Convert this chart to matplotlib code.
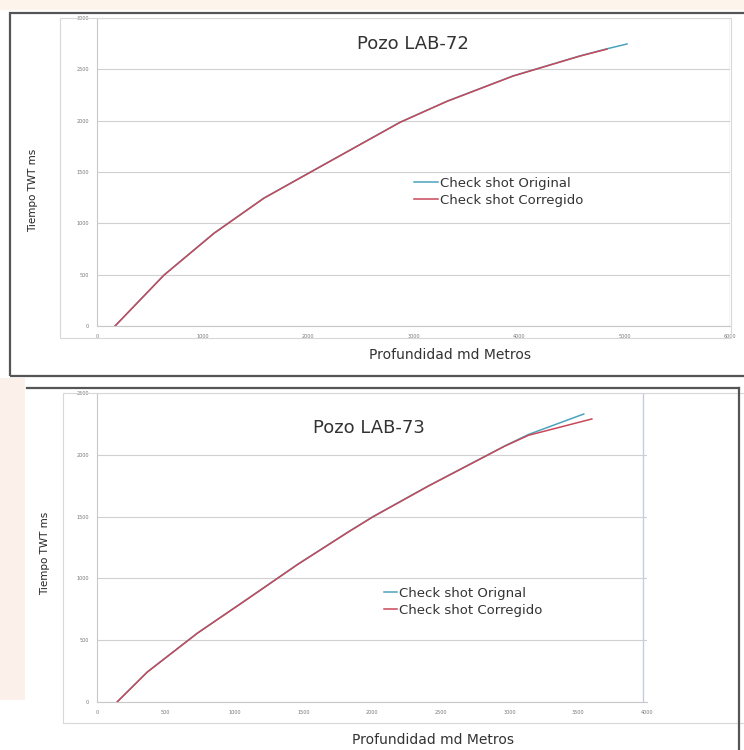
import matplotlib
matplotlib.use("Agg")
import matplotlib.pyplot as plt
from matplotlib.patches import Rectangle

# LAB-72 check shot (depth md m, TWT ms)
depth72_orig = [171, 635, 1109, 1583, 2057, 2531, 2872, 3318, 3943, 4578, 4834, 5024]
twt72_orig = [0, 497, 905, 1247, 1519, 1790, 1985, 2190, 2436, 2631, 2700, 2747]
depth72_corr = [171, 635, 1109, 1583, 2057, 2531, 2872, 3318, 3943, 4578, 4834]
twt72_corr = [0, 495, 902, 1245, 1517, 1788, 1983, 2188, 2434, 2629, 2697]

# LAB-73 check shot
depth73_orig = [146, 365, 730, 1095, 1460, 1825, 2007, 2409, 2964, 3139, 3540]
twt73_orig = [0, 243, 558, 835, 1115, 1375, 1500, 1748, 2071, 2165, 2330]
depth73_corr = [146, 365, 730, 1095, 1460, 1825, 2007, 2409, 2964, 3139, 3599]
twt73_corr = [0, 241, 556, 833, 1113, 1373, 1498, 1746, 2069, 2158, 2290]

xticks72 = [0, 1000, 2000, 3000, 4000, 5000, 6000]
yticks72 = [0, 500, 1000, 1500, 2000, 2500, 3000]
xticks73 = [0, 500, 1000, 1500, 2000, 2500, 3000, 3500, 4000]
yticks73 = [0, 500, 1000, 1500, 2000, 2500]

W, H = 744, 750
c_orig = "#4aa3bd"
c_corr = "#c8485a"

fig = plt.figure(figsize=(W / 100, H / 100), dpi=100)


def fx(x):
    return x / W


def fy(y):
    return 1 - y / H


def rect(x0, y0, x1, y1, **kw):
    # pixel rect (top-left origin) -> figure coords
    r = Rectangle((fx(x0), fy(y1)), (x1 - x0) / W, (y1 - y0) / H,
                  transform=fig.transFigure, **kw)
    fig.add_artist(r)


def hline(x0, x1, y, **kw):
    fig.add_artist(plt.Line2D([fx(x0), fx(x1)], [fy(y), fy(y)],
                              transform=fig.transFigure, **kw))


def vline(x, y0, y1, **kw):
    fig.add_artist(plt.Line2D([fx(x), fx(x)], [fy(y0), fy(y1)],
                              transform=fig.transFigure, **kw))


def axes_px(x0, y0, x1, y1):
    return fig.add_axes([fx(x0), fy(y1), (x1 - x0) / W, (y1 - y0) / H])


def panel(ax, d_o, t_o, d_c, t_c, xt, yt, lab_orig, leg_xy, hlen):
    ax.plot(d_o, t_o, color=c_orig, lw=1.1, label=lab_orig)
    ax.plot(d_c, t_c, color=c_corr, lw=1.1, label="Check shot Corregido")
    ax.set_xlim(xt[0], xt[-1])
    ax.set_ylim(yt[0], yt[-1])
    ax.set_xticks(xt)
    ax.set_yticks(yt)
    ax.tick_params(length=0, labelsize=3.5, labelcolor="#777777", pad=6)
    ax.grid(axis="y", color="#d0d0d0", lw=0.8)
    for s in ["top", "right"]:
        ax.spines[s].set_visible(False)
    for s in ["left", "bottom"]:
        ax.spines[s].set_color("#c8c8c8")
    ax.legend(loc="center left", bbox_to_anchor=(fx(leg_xy[0]), fy(leg_xy[1])),
              bbox_transform=fig.transFigure, frameon=False, borderpad=0,
              borderaxespad=0, fontsize=9.5, handlelength=hlen,
              handletextpad=0.15, labelspacing=0.3, labelcolor="#333333")


# faint background tint of the scanned page
rect(0, 0, 744, 10, color="#fdf4ec", lw=0)
rect(0, 378, 25, 700, color="#fcf0ea", lw=0)

# top panel: LAB-72
rect(10, 13, 760, 376, fill=False, lw=1.6, edgecolor="#555555")
rect(60, 18, 731, 338, fill=False, lw=0.8, edgecolor="#d8d8d8")
ax1 = axes_px(97, 18, 730, 326)
panel(ax1, depth72_orig, twt72_orig, depth72_corr, twt72_corr,
      xticks72, yticks72, "Check shot Original", (414, 192), 1.8)
ax1.axvline(6000, color="#c8cce0", lw=1)
fig.text(fx(413), fy(44), "Pozo LAB-72", ha="center", va="center",
         fontsize=13, color="#333333")
fig.text(fx(33), fy(190), "Tiempo TWT ms", ha="center", va="center",
         rotation=90, fontsize=7.5, color="#222222",
         family="Liberation Sans Narrow")
fig.text(fx(450), fy(355), "Profundidad md Metros", ha="center",
         va="center", fontsize=10, color="#333333")

# bottom panel: LAB-73
hline(27, 739, 388, color="#555555", lw=1.6)
vline(739, 388, 760, color="#555555", lw=1.6)
rect(63, 393, 760, 723, fill=False, lw=0.8, edgecolor="#d8d8d8")
ax2 = axes_px(97, 393, 647, 702)
panel(ax2, depth73_orig, twt73_orig, depth73_corr, twt73_corr,
      xticks73, yticks73, "Check shot Orignal", (384, 602), 0.95)
ax2.axvline(3970, color="#c8cce0", lw=1)
fig.text(fx(369), fy(428), "Pozo LAB-73", ha="center", va="center",
         fontsize=13, color="#333333")
fig.text(fx(45), fy(553), "Tiempo TWT ms", ha="center", va="center",
         rotation=90, fontsize=7.5, color="#222222",
         family="Liberation Sans Narrow")
fig.text(fx(433), fy(740), "Profundidad md Metros", ha="center",
         va="center", fontsize=10, color="#333333")

fig.savefig("out.png", dpi=100)
